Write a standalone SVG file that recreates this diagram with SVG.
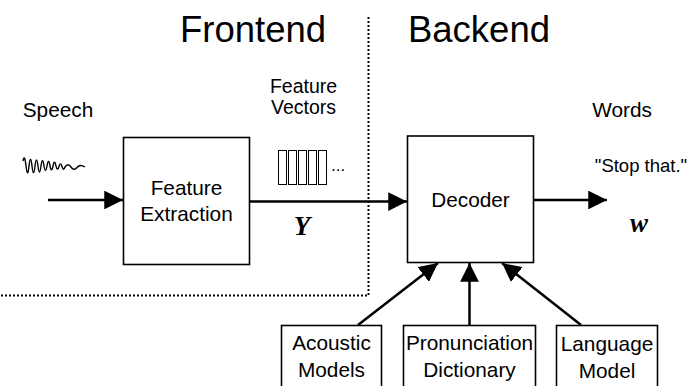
<svg xmlns="http://www.w3.org/2000/svg" width="691" height="386" viewBox="0 0 691 386">
  <defs>
    <marker id="head" viewBox="0 0 10 10" refX="10" refY="5" markerWidth="7.5" markerHeight="7.5" markerUnits="strokeWidth" orient="auto">
      <path d="M0,0 L10,5 L0,10 Z" fill="#000"/>
    </marker>
    <style>
      text { font-family: "Liberation Sans", Arial, sans-serif; fill: #000; }
      .title { font-size: 36.5px; text-anchor: middle; }
      .lbl { font-size: 20.8px; text-anchor: middle; }
      .small { font-size: 18.5px; text-anchor: middle; }
      .math { font-family: "Liberation Serif", "Times New Roman", serif; font-weight: bold; font-style: italic; font-size: 27px; text-anchor: middle; }
      .box { fill: #fff; stroke: #000; stroke-width: 1.6; }
      .vec { fill: #fff; stroke: #000; stroke-width: 1; }
      .edge { fill: none; stroke: #000; stroke-width: 2.5; marker-end: url(#head); }
      .divider { fill: none; stroke: #000; stroke-width: 2; stroke-dasharray: 2 2; }
    </style>
  </defs>

  <rect width="691" height="386" fill="#fff"/>

  <!-- Frontend / Backend split -->
  <g id="divider">
    <path class="divider" d="M368.5,17 V295.5 H0"/>
  </g>
  <text class="title" x="253" y="42">Frontend</text>
  <text class="title" x="479" y="42">Backend</text>

  <!-- Speech input -->
  <g id="speech">
    <text class="lbl" x="58" y="117">Speech</text>
    <path d="M23,161 C24,156 25,157 26,166 C27,174 28,176 29,166 C30,157 31,157 32,166 C33,175 34,175 35,166 C36,158 37,158 38,166 C39,174 40,174 41,166 C42,159 43,159 44,166 C45,172 46,172 47,166 C48,160 49,160 50,166 C51,171 52,171 53,166 C54,161 55,161 56,166 C57,170 58,170 59,166.5 C60,163 61,163 62,166.5 C63,170 64,170 65,167 C67,164 69,164 71,167 C73,170 75,170 77,167.5 C79,165 82,165 85,167" fill="none" stroke="#000" stroke-width="1.4"/>
  </g>

  <!-- Feature extraction -->
  <g id="feature-extraction">
    <rect class="box" x="123.5" y="137.5" width="126" height="127"/>
    <text class="lbl" x="186.5" y="195">Feature</text>
    <text class="lbl" x="186.5" y="221">Extraction</text>
  </g>

  <!-- Feature vectors -->
  <g id="feature-vectors">
    <text class="lbl" x="303.5" y="93" style="font-size:19.5px">Feature</text>
    <text class="lbl" x="303.5" y="114" style="font-size:19.5px">Vectors</text>
    <rect class="vec" x="278.5" y="150.5" width="8" height="34"/>
    <rect class="vec" x="288.5" y="150.5" width="8" height="34"/>
    <rect class="vec" x="298.5" y="150.5" width="8" height="34"/>
    <rect class="vec" x="308.5" y="150.5" width="8" height="34"/>
    <rect class="vec" x="318.5" y="150.5" width="8" height="34"/>
    <text x="331" y="171" font-size="17">...</text>
    <text class="math" x="302" y="235">Y</text>
  </g>

  <!-- Decoder -->
  <g id="decoder">
    <rect class="box" x="407.5" y="136" width="126" height="126.5"/>
    <text class="lbl" x="470.5" y="207">Decoder</text>
  </g>

  <!-- Output words -->
  <g id="words">
    <text class="lbl" x="622" y="117">Words</text>
    <text class="small" x="641" y="172">"Stop that."</text>
    <text class="math" x="639" y="232">w</text>
  </g>

  <!-- Knowledge sources -->
  <g id="acoustic-models">
    <rect class="box" x="281.5" y="325.5" width="100" height="70"/>
    <text class="lbl" x="331.5" y="350">Acoustic</text>
    <text class="lbl" x="331.5" y="377">Models</text>
  </g>
  <g id="pronunciation-dictionary">
    <rect class="box" x="403.5" y="325.5" width="132" height="70"/>
    <text class="lbl" x="469.5" y="350">Pronunciation</text>
    <text class="lbl" x="469.5" y="377">Dictionary</text>
  </g>
  <g id="language-model">
    <rect class="box" x="556.5" y="325.5" width="101" height="70"/>
    <text class="lbl" x="607" y="351">Language</text>
    <text class="lbl" x="607" y="378">Model</text>
  </g>

  <!-- Connectors -->
  <g id="connectors">
    <line class="edge" x1="48" y1="200" x2="123" y2="200"/>
    <line class="edge" x1="250" y1="201.5" x2="407" y2="201.5"/>
    <line class="edge" x1="534" y1="200" x2="607" y2="200"/>
    <line class="edge" x1="358" y1="325" x2="438" y2="263"/>
    <line class="edge" x1="469.5" y1="325" x2="469.5" y2="263"/>
    <line class="edge" x1="581" y1="325" x2="502" y2="263"/>
  </g>
</svg>
